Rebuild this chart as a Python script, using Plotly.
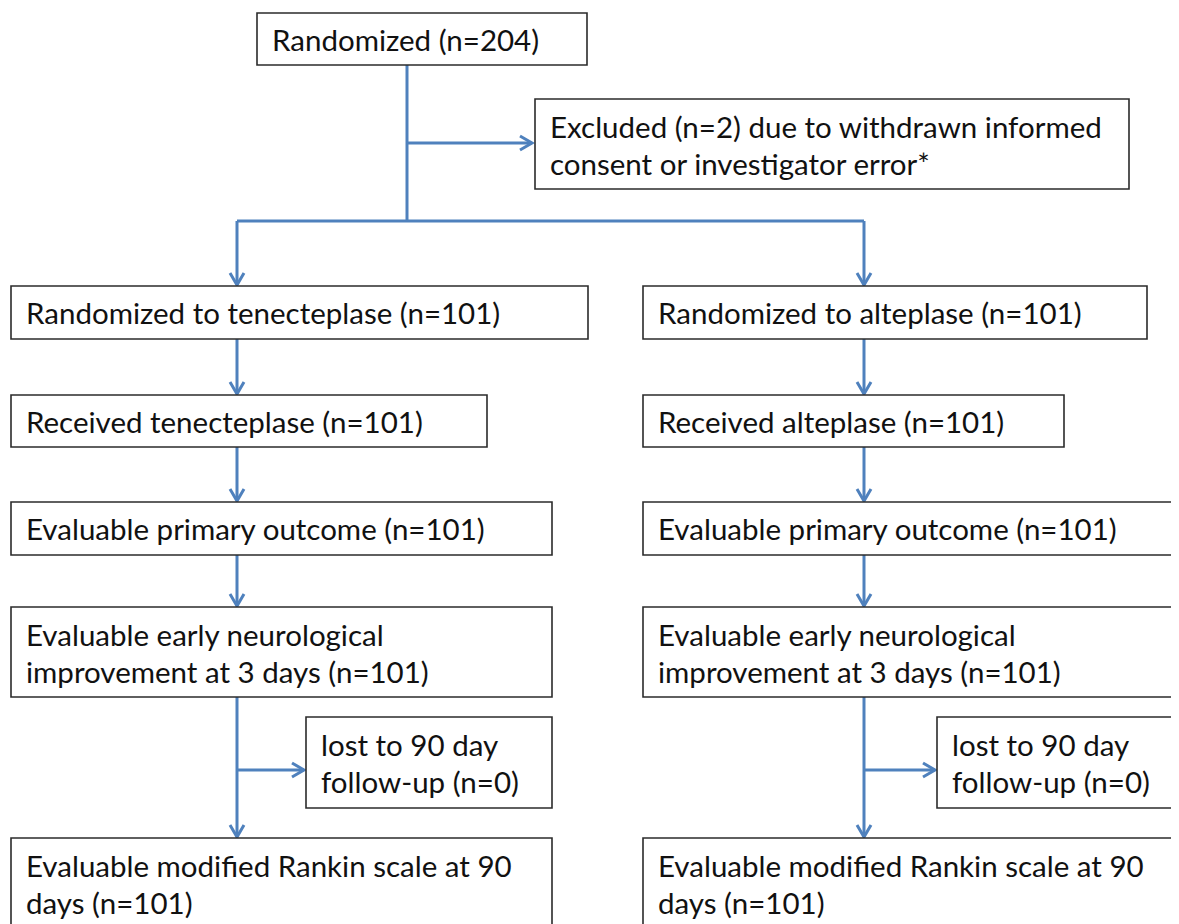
import plotly.graph_objects as go

# ---------------- data ----------------
n_randomized = 204
n_excluded = 2
arms = ["tenecteplase", "alteplase"]
n_randomized_arm = [101, 101]
n_received = [101, 101]
n_primary = [101, 101]
n_eni = [101, 101]
n_lost = [0, 0]
n_mrs = [101, 101]

# ---------------- layout geometry ----------------
W, H = 1179, 924
PAD = 8  # browser body margin
LINE = "#4F81BD"
BORDER = "#2b2b2b"
TXT = "#111111"
FONT = "Lato"
FS = 29.5

fig = go.Figure()
shapes = []
annotations = []


def box(x0, y0, x1, y1, lines):
    shapes.append(dict(type="rect", x0=x0, y0=y0, x1=x1, y1=y1,
                       line=dict(color=BORDER, width=1.6),
                       fillcolor="white", layer="above"))
    if len(lines) == 1:
        ys = [(y0 + y1) / 2]
    else:
        ys = [y0 + 27, y0 + 64]
    for t, yy in zip(lines, ys):
        annotations.append(dict(x=x0 + 13, y=yy, text=t, showarrow=False,
                                xanchor="left", yanchor="middle",
                                font=dict(family=FONT, size=FS, color=TXT)))


def seg(x0, y0, x1, y1):
    shapes.append(dict(type="line", x0=x0, y0=y0, x1=x1, y1=y1,
                       line=dict(color=LINE, width=3), layer="below"))


def arrow_down(x, y0, y1):
    seg(x, y0, x, y1)
    shapes.append(dict(type="path",
                       path=f"M {x-7},{y1-12} L {x},{y1} L {x+7},{y1-12}",
                       line=dict(color=LINE, width=3), layer="below"))


def arrow_right(x0, x1, y):
    seg(x0, y, x1, y)
    shapes.append(dict(type="path",
                       path=f"M {x1-12},{y-7} L {x1},{y} L {x1-12},{y+7}",
                       line=dict(color=LINE, width=3), layer="below"))


# top
box(257, 13, 587, 65, [f"Randomized (n={n_randomized})"])
box(535, 99, 1129, 189, [f"Excluded (n={n_excluded}) due to withdrawn informed",
                         "consent or investigator error*"])
seg(407, 65, 407, 221)
arrow_right(407, 532, 143)
seg(237, 221, 864, 221)

col_x = [237, 864]
col_left = [11, 643]
rows = [(286, 339), (395, 447), (502, 555), (607, 697), (838, 940)]
right_edges = [[588, 487, 552, 552, 552], [1147, 1064, 1195, 1195, 1195]]
lost_boxes = [(306, 717, 552, 808), (937, 717, 1195, 808)]

for i, arm in enumerate(arms):
    cx = col_x[i]
    xl = col_left[i]
    texts = [
        [f"Randomized to {arm} (n={n_randomized_arm[i]})"],
        [f"Received {arm} (n={n_received[i]})"],
        [f"Evaluable primary outcome (n={n_primary[i]})"],
        ["Evaluable early neurological", f"improvement at 3 days (n={n_eni[i]})"],
        ["Evaluable modified Rankin scale at 90", f"days (n={n_mrs[i]})"],
    ]
    arrow_down(cx, 221, rows[0][0] - 1)
    for r in range(5):
        box(xl, rows[r][0], right_edges[i][r], rows[r][1], texts[r])
        if r < 4:
            arrow_down(cx, rows[r][1], rows[r + 1][0] - 1)
    lb = lost_boxes[i]
    box(lb[0], lb[1], lb[2], lb[3], ["lost to 90 day", f"follow-up (n={n_lost[i]})"])
    arrow_right(cx, lb[0] - 2, 770)

fig.update_layout(
    width=W - PAD, height=H - PAD,
    margin=dict(l=0, r=0, t=0, b=0),
    paper_bgcolor="white", plot_bgcolor="white",
    xaxis=dict(range=[PAD, W], visible=False, fixedrange=True),
    yaxis=dict(range=[H, PAD], visible=False, fixedrange=True),
    shapes=shapes, annotations=annotations, showlegend=False,
)
fig.write_html("out.html", config={"displayModeBar": False})
